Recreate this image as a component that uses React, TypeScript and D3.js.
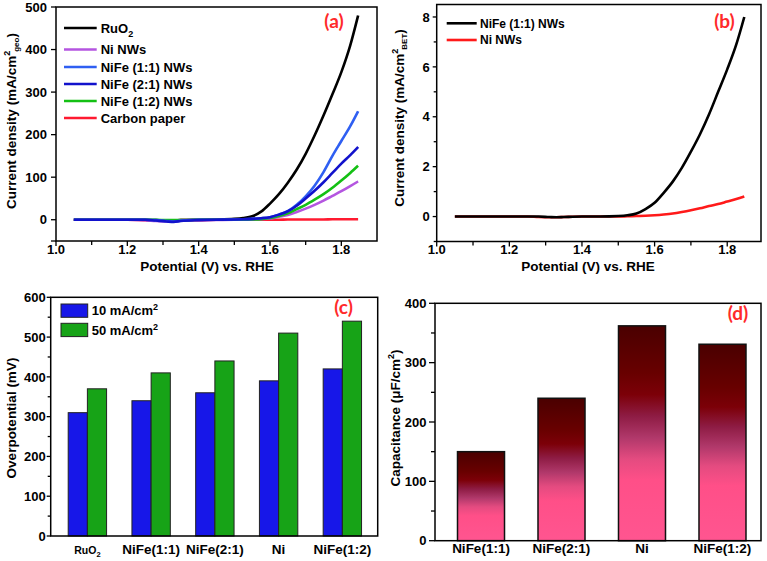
import React from 'react';
import * as d3 from 'd3';

const FONT = '"Liberation Sans", Arial, Helvetica, sans-serif';
const TAG_FONT = 'Lato, "Open Sans", sans-serif';

// (a) polarization curves, geometric area
const potentialA = [1.05, 1.1, 1.15, 1.2, 1.25, 1.28, 1.31, 1.33, 1.35, 1.4, 1.45, 1.5, 1.525, 1.55, 1.575, 1.6, 1.625, 1.65, 1.675, 1.7, 1.725, 1.75, 1.775, 1.8, 1.825, 1.847];
const carbonA = [0, 0, 0, 0, -1, -2, -2, -2, -1, -1, 0, 0, 0, 0, 0, 0, 0, 0.5, 0.5, 0.5, 0.5, 0.5, 1, 1, 1, 1];
const ruo2A = [0, 0, 0, 0, 0, -1, -2, -2, -1, 0, 0.5, 2, 4, 8, 19, 38, 60, 87, 118, 155, 198, 245, 295, 347, 410, 480];
const niA = [0, 0, 0, 0, -1, -3, -4, -3, -2, -1, -0.5, 0, 0, 0.5, 1.5, 3, 7, 11, 18, 26, 35, 45, 56, 67, 79, 90];
const nife12A = [0, 0, 0, 0, 0, 0, -1, -1, -1, 0, 0, 0, 0, 0.5, 1.5, 4, 9, 15, 25, 35, 47, 60, 75, 92, 110, 127];
const nife11A = [0, 0, 0, 0, 0, -1, -3, -4, -2, 0, 0, 0.5, 1, 2, 3.5, 6, 12, 20, 35, 55, 80, 112, 150, 185, 220, 255];
const nife21A = [0, 0, 0, 0, 0, -2, -4, -5, -3, -1, 0, 0.5, 1, 2, 3.5, 6, 12, 20, 33, 50, 68, 88, 110, 132, 152, 171];

// legend order of (a)
const legendNamesA = ['RuO', 'Ni NWs', 'NiFe (1:1) NWs', 'NiFe (2:1) NWs', 'NiFe (1:2) NWs', 'Carbon paper'];
const legendColorsA = ['#000000', '#b455e0', '#2f5ff2', '#1212cc', '#14c014', '#ff1a30'];
const legendRowsA = [28, 49.5, 67, 84, 101, 118];

// (b) polarization curves, BET area
const nife11B = [0, 0, 0, 0, 0, 0, -0.02, -0.03, -0.02, 0, 0, 0.02, 0.05, 0.12, 0.3, 0.55, 0.95, 1.4, 1.95, 2.6, 3.3, 4.1, 5.0, 5.9, 6.9, 8.0];
const niB = [0, 0, 0, 0, 0, -0.02, -0.03, -0.03, -0.02, 0, 0, 0, 0.01, 0.02, 0.03, 0.05, 0.08, 0.12, 0.18, 0.25, 0.33, 0.42, 0.5, 0.6, 0.7, 0.8];

// (c) overpotential
const catalystsC = ['RuO2', 'NiFe(1:1)', 'NiFe(2:1)', 'Ni', 'NiFe(1:2)'];
const eta10 = [310, 340, 360, 390, 420];
const eta50 = [370, 410, 440, 510, 540];

// (d) capacitance
const catalystsD = ['NiFe(1:1)', 'NiFe(2:1)', 'Ni', 'NiFe(1:2)'];
const capacitance = [150, 240, 362, 331];

const xTicks = [1.0, 1.2, 1.4, 1.6, 1.8];
const xMinor = [1.1, 1.3, 1.5, 1.7];

const zip = (xs: number[], ys: number[]) => xs.map((x, i) => [x, ys[i]] as [number, number]);

function LeftTicks({ scale, x, major, minor, off, len = 5, mlen = 3 }: any) {
  return (
    <g>
      {major.map((v: number) => (
        <g key={'M' + v}>
          <line x1={x - len} x2={x} y1={scale(v)} y2={scale(v)} stroke="#000" strokeWidth={1.3} />
          <text x={x - off} y={scale(v)} dy="0.36em" textAnchor="end" fontSize={13} fontWeight="bold">{v}</text>
        </g>
      ))}
      {minor.map((v: number) => (
        <line key={'m' + v} x1={x - mlen} x2={x} y1={scale(v)} y2={scale(v)} stroke="#000" strokeWidth={1.3} />
      ))}
    </g>
  );
}

function BottomTicks({ scale, y }: any) {
  return (
    <g>
      {xTicks.map((v) => (
        <g key={'M' + v}>
          <line x1={scale(v)} x2={scale(v)} y1={y} y2={y + 5} stroke="#000" strokeWidth={1.3} />
          <text x={scale(v)} y={y + 12.5} textAnchor="middle" fontSize={13} fontWeight="bold">{v.toFixed(1)}</text>
        </g>
      ))}
      {xMinor.map((v) => (
        <line key={'m' + v} x1={scale(v)} x2={scale(v)} y1={y} y2={y + 4} stroke="#000" strokeWidth={1.3} />
      ))}
    </g>
  );
}

export default function App() {
  // panel (a)
  const xA = d3.scaleLinear().domain([1.0, 1.9]).range([56, 377]);
  const yA = d3.scaleLinear().domain([-50, 500]).range([241, 7]);
  const lineA = d3.line<[number, number]>().x((d) => xA(d[0])).y((d) => yA(d[1])).curve(d3.curveMonotoneX);
  const curvesA = [
    { v: carbonA, c: legendColorsA[5] },
    { v: ruo2A, c: legendColorsA[0] },
    { v: niA, c: legendColorsA[1] },
    { v: nife12A, c: legendColorsA[4] },
    { v: nife11A, c: legendColorsA[2] },
    { v: nife21A, c: legendColorsA[3] },
  ];

  // panel (b)
  const xB = d3.scaleLinear().domain([1.0, 1.893]).range([436.7, 761]);
  const yB = d3.scaleLinear().domain([-1, 8.5]).range([241.5, 4.5]);
  const lineB = d3.line<[number, number]>().x((d) => xB(d[0])).y((d) => yB(d[1])).curve(d3.curveMonotoneX);

  // panel (c)
  const yC = d3.scaleLinear().domain([0, 600]).range([536, 297.3]);
  const xC = d3.scaleBand<string>().domain(catalystsC).range([50.7, 377.7]).paddingInner(0.398).paddingOuter(0.264).align(0.52);
  const subC = d3.scaleBand<string>().domain(['10', '50']).range([0, xC.bandwidth()]);

  // panel (d)
  const yD = d3.scaleLinear().domain([0, 400]).range([540.7, 303.3]);
  const xD = d3.scaleBand<string>().domain(catalystsD).range([435, 761]).paddingInner(0.416).paddingOuter(0.233).align(0.6);

  return (
    <svg width={767} height={561} style={{ position: 'absolute', left: 0, top: 0, background: '#fff' }} fontFamily={FONT}>
      <defs>
        <linearGradient id="capGrad" x1="0" y1="0" x2="0" y2="1">
          <stop offset="0" stopColor="#4a0000" />
          <stop offset="0.22" stopColor="#680000" />
          <stop offset="0.32" stopColor="#7c0008" />
          <stop offset="0.42" stopColor="#8e1c44" />
          <stop offset="0.52" stopColor="#b0386a" />
          <stop offset="0.62" stopColor="#e44b80" />
          <stop offset="0.72" stopColor="#ff4f88" />
          <stop offset="1" stopColor="#ff5590" />
        </linearGradient>
      </defs>

      {/* ---------- (a) ---------- */}
      <g>
        {curvesA.map((s, i) => (
          <path key={i} d={lineA(zip(potentialA, s.v)) || ''} fill="none" stroke={s.c} strokeWidth={2.6} />
        ))}
        <rect x={56} y={7} width={321} height={234} fill="none" stroke="#000" strokeWidth={1.5} />
        <LeftTicks scale={yA} x={56} major={[0, 100, 200, 300, 400, 500]} minor={[-50]} off={9} len={5} mlen={5} />
        <BottomTicks scale={xA} y={241} />
        {legendNamesA.map((n, i) => (
          <g key={n}>
            <line x1={64} x2={96.7} y1={legendRowsA[i]} y2={legendRowsA[i]} stroke={legendColorsA[i]} strokeWidth={2.6} />
            <text x={100.7} y={legendRowsA[i] + 4.6} fontSize={13} fontWeight="bold">
              {n}
              {i === 0 && <tspan dy={4} fontSize={9}>2</tspan>}
            </text>
          </g>
        ))}
        <text x={207} y={271} textAnchor="middle" fontSize={13.5} fontWeight="bold">Potential (V) vs. RHE</text>
        <text transform={`translate(15.5,121) rotate(-90)`} textAnchor="middle" fontSize={13.5} fontWeight="bold">
          Current density (mA/cm<tspan dy={-6} fontSize={9}>2</tspan>
          <tspan dy={9} dx={-1} fontSize={8}>geo</tspan>
          <tspan dy={-3}>)</tspan>
        </text>
        <text x={334} y={28} textAnchor="middle" fontFamily={TAG_FONT} fontSize={19} fontWeight="bold" fill="#ff2a2a">(a)</text>
      </g>

      {/* ---------- (b) ---------- */}
      <g>
        <path d={lineB(zip(potentialA, niB)) || ''} fill="none" stroke="#ff1a1a" strokeWidth={2.6} />
        <path d={lineB(zip(potentialA, nife11B)) || ''} fill="none" stroke="#000" strokeWidth={2.6} />
        <rect x={436.7} y={4.5} width={324.3} height={237} fill="none" stroke="#000" strokeWidth={1.5} />
        <LeftTicks scale={yB} x={436.7} major={[0, 2, 4, 6, 8]} minor={[-1, 1, 3, 5, 7]} off={7} len={4} mlen={3} />
        <BottomTicks scale={xB} y={241.5} />
        <line x1={446.7} x2={476.7} y1={23.3} y2={23.3} stroke="#000" strokeWidth={2.6} />
        <text x={480} y={27.6} fontSize={12} fontWeight="bold">NiFe (1:1) NWs</text>
        <line x1={446.7} x2={476.7} y1={40} y2={40} stroke="#ff1a1a" strokeWidth={2.6} />
        <text x={480} y={44.3} fontSize={12} fontWeight="bold">Ni NWs</text>
        <text x={588} y={271} textAnchor="middle" fontSize={13.5} fontWeight="bold">Potential (V) vs. RHE</text>
        <text transform={`translate(404,118) rotate(-90)`} textAnchor="middle" fontSize={13.5} fontWeight="bold">
          Current density (mA/cm<tspan dy={-6} fontSize={9}>2</tspan>
          <tspan dy={9} dx={-1} fontSize={8}>BET</tspan>
          <tspan dy={-3}>)</tspan>
        </text>
        <text x={724.5} y={28} textAnchor="middle" fontFamily={TAG_FONT} fontSize={19} fontWeight="bold" fill="#ff2a2a">(b)</text>
      </g>

      {/* ---------- (c) ---------- */}
      <g>
        {catalystsC.map((c, i) => (
          <g key={c}>
            <rect x={(xC(c) || 0) + (subC('10') || 0)} y={yC(eta10[i])} width={subC.bandwidth()} height={yC(0) - yC(eta10[i])} fill="#1717e8" stroke="#222" strokeWidth={1} />
            <rect x={(xC(c) || 0) + (subC('50') || 0)} y={yC(eta50[i])} width={subC.bandwidth()} height={yC(0) - yC(eta50[i])} fill="#17a317" stroke="#222" strokeWidth={1} />
            {c === 'RuO2' ? (
              <text x={(xC(c) || 0) + xC.bandwidth() / 2} y={553.5} textAnchor="middle" fontSize={10.5} fontWeight="bold">
                RuO<tspan dy={3} fontSize={7.5}>2</tspan>
              </text>
            ) : (
              <text x={(xC(c) || 0) + xC.bandwidth() / 2} y={553.5} textAnchor="middle" fontSize={13.5} fontWeight="bold">{c}</text>
            )}
          </g>
        ))}
        <rect x={50.7} y={297.3} width={327} height={238.7} fill="none" stroke="#000" strokeWidth={1.5} />
        <LeftTicks scale={yC} x={50.7} major={[0, 100, 200, 300, 400, 500, 600]} minor={[50, 150, 250, 350, 450, 550]} off={5} len={4} mlen={3} />
        <rect x={61} y={304} width={26.7} height={13.3} fill="#1717e8" stroke="#222" strokeWidth={1} />
        <text x={91.7} y={315.3} fontSize={13} fontWeight="bold">10 mA/cm<tspan dy={-5} fontSize={9}>2</tspan></text>
        <rect x={61} y={323.3} width={26.7} height={13.3} fill="#17a317" stroke="#222" strokeWidth={1} />
        <text x={91.7} y={334.6} fontSize={13} fontWeight="bold">50 mA/cm<tspan dy={-5} fontSize={9}>2</tspan></text>
        <text transform={`translate(16,418) rotate(-90)`} textAnchor="middle" fontSize={13.5} fontWeight="bold">Overpotential (mV)</text>
        <text x={343.5} y={314} textAnchor="middle" fontFamily={TAG_FONT} fontSize={19} fontWeight="bold" fill="#ff2a2a">(c)</text>
      </g>

      {/* ---------- (d) ---------- */}
      <g>
        {catalystsD.map((c, i) => (
          <g key={c}>
            <rect x={xD(c)} y={yD(capacitance[i])} width={xD.bandwidth()} height={yD(0) - yD(capacitance[i])} fill="url(#capGrad)" stroke="#111" strokeWidth={1.5} />
            <text x={(xD(c) || 0) + xD.bandwidth() / 2} y={553} textAnchor="middle" fontSize={13.5} fontWeight="bold">{c}</text>
          </g>
        ))}
        <rect x={435} y={303.3} width={326} height={237.4} fill="none" stroke="#000" strokeWidth={1.5} />
        <LeftTicks scale={yD} x={435} major={[0, 100, 200, 300, 400]} minor={[50, 150, 250, 350]} off={8.5} len={6} mlen={4} />
        <text transform={`translate(400,418) rotate(-90)`} textAnchor="middle" fontSize={13.5} fontWeight="bold">
          Capacitance (μF/cm<tspan dy={-6} fontSize={9}>2</tspan>
          <tspan dy={6}>)</tspan>
        </text>
        <text x={738} y={320} textAnchor="middle" fontFamily={TAG_FONT} fontSize={19} fontWeight="bold" fill="#ff2a2a">(d)</text>
      </g>
    </svg>
  );
}
